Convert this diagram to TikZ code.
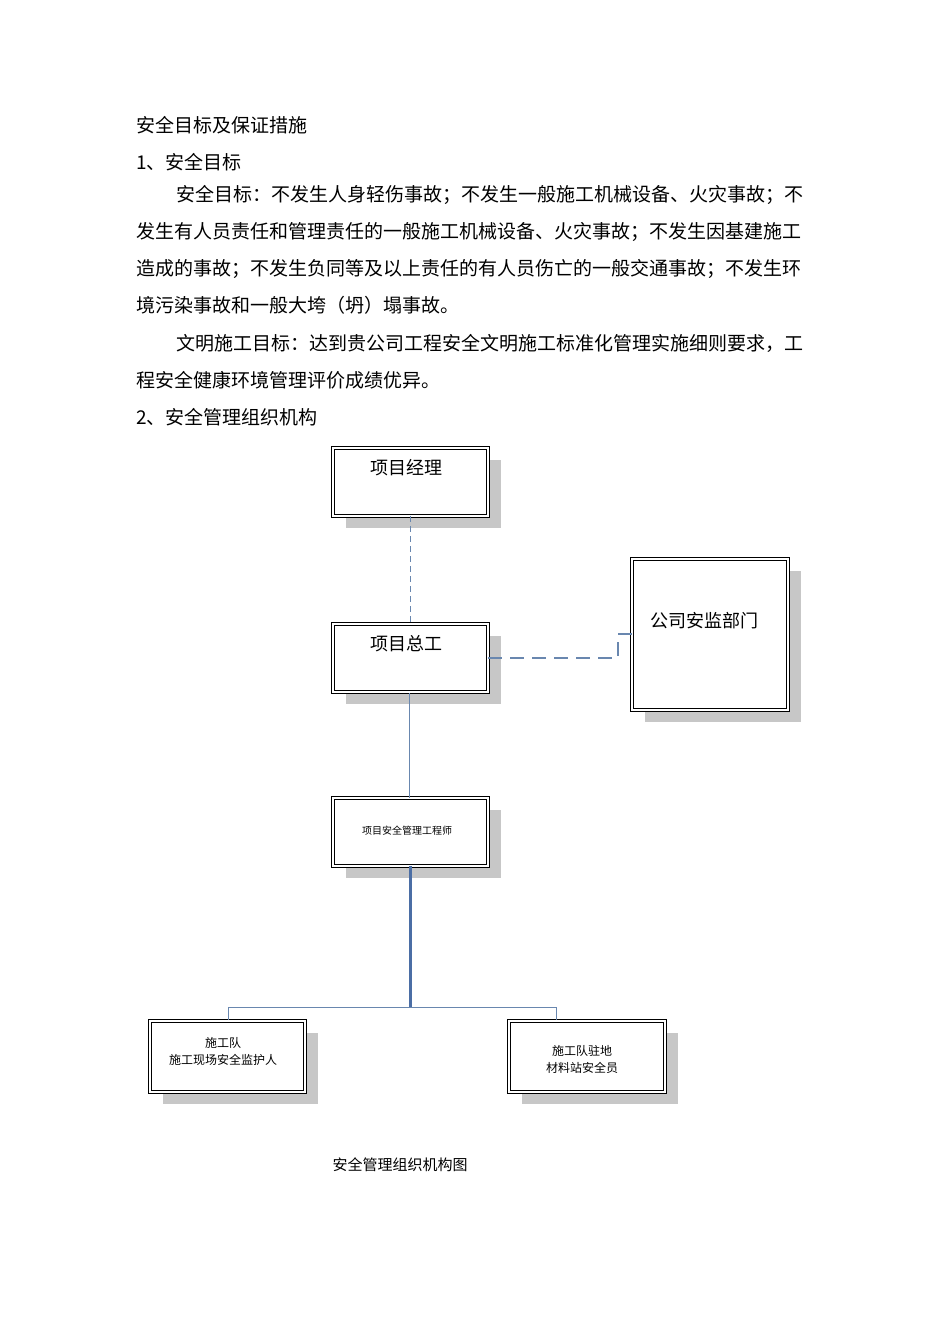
\documentclass[tikz,border=0pt]{standalone}
\usepackage{fontspec}
\setmainfont{Noto Sans CJK SC}
\usetikzlibrary{shadows}
\definecolor{lnc}{RGB}{105,135,175}
\definecolor{lnd}{RGB}{75,110,165}
\begin{document}
\begin{tikzpicture}[x=1pt,y=-1pt,
 bx/.style={draw=black,line width=0.6pt,double=white,double distance=2pt,fill=white,inner sep=0pt,
   drop shadow={shadow xshift=13pt,shadow yshift=-12pt,fill=black!22,opacity=1}},
 tx/.style={anchor=west,inner sep=0pt,font=\fontsize{19}{22}\selectfont},
 conn/.style={draw=lnc,line width=1pt}]
\useasboundingbox (0,0) rectangle (950,1344);
\node[tx] (t1) at (136,125) {安全目标及保证措施};
\node[tx] (t2) at (136,162) {1、安全目标};
\node[tx] (t3) at (176,195) {安全目标：不发生人身轻伤事故；不发生一般施工机械设备、火灾事故；不};
\node[tx] (t4) at (136,232) {发生有人员责任和管理责任的一般施工机械设备、火灾事故；不发生因基建施工};
\node[tx] (t5) at (136,269) {造成的事故；不发生负同等及以上责任的有人员伤亡的一般交通事故；不发生环};
\node[tx] (t6) at (136,305) {境污染事故和一般大垮（坍）塌事故。};
\node[tx] (t7) at (176,343) {文明施工目标：达到贵公司工程安全文明施工标准化管理实施细则要求，工};
\node[tx] (t8) at (136,380) {程安全健康环境管理评价成绩优异。};
\node[tx] (t9) at (136,417) {2、安全管理组织机构};
\node[bx,minimum width=155pt,minimum height=68pt] (pm) at (410.5,482) {};
\node[font=\fontsize{18}{20}\selectfont] (pmt) at (406,468) {项目经理};
\node[bx,minimum width=155pt,minimum height=68pt] (ce) at (410.5,658) {};
\node[font=\fontsize{18}{20}\selectfont] (cet) at (406,644) {项目总工};
\node[bx,minimum width=156pt,minimum height=151pt] (gs) at (710,634.5) {};
\node[font=\fontsize{18}{20}\selectfont] (gst) at (704,621) {公司安监部门};
\node[bx,minimum width=155pt,minimum height=68pt] (se) at (410.5,832) {};
\node[font=\fontsize{10}{12}\selectfont] (set) at (407,831) {项目安全管理工程师};
\node[bx,minimum width=155pt,minimum height=71pt] (ta) at (227.5,1056.5) {};
\node[font=\fontsize{12}{17}\selectfont,align=center] (tat) at (223,1051) {施工队\\施工现场安全监护人};
\node[bx,minimum width=156pt,minimum height=71pt] (tb) at (587,1056.5) {};
\node[font=\fontsize{12}{17}\selectfont,align=center] (tbt) at (582,1059) {施工队驻地\\材料站安全员};
\node[font=\fontsize{15}{17}\selectfont] (cap) at (400,1165) {安全管理组织机构图};
\draw[conn,dash pattern=on 6pt off 4pt] (pm.south) -- (ce.north);
\draw[conn,line width=1.3pt,dash pattern=on 14pt off 8pt] (ce.east) -- (618,658) -- (618,634) -- (gs.west |- 0,634);
\draw[conn] (409,693) -- (se.north -| 409,0);
\draw[conn,draw=lnd,line width=2.2pt] (se.south) -- (410.5,1007);
\draw[conn] (228,1020) -- (228,1007) -- (556,1007) -- (556,1020);
\end{tikzpicture}
\end{document}
